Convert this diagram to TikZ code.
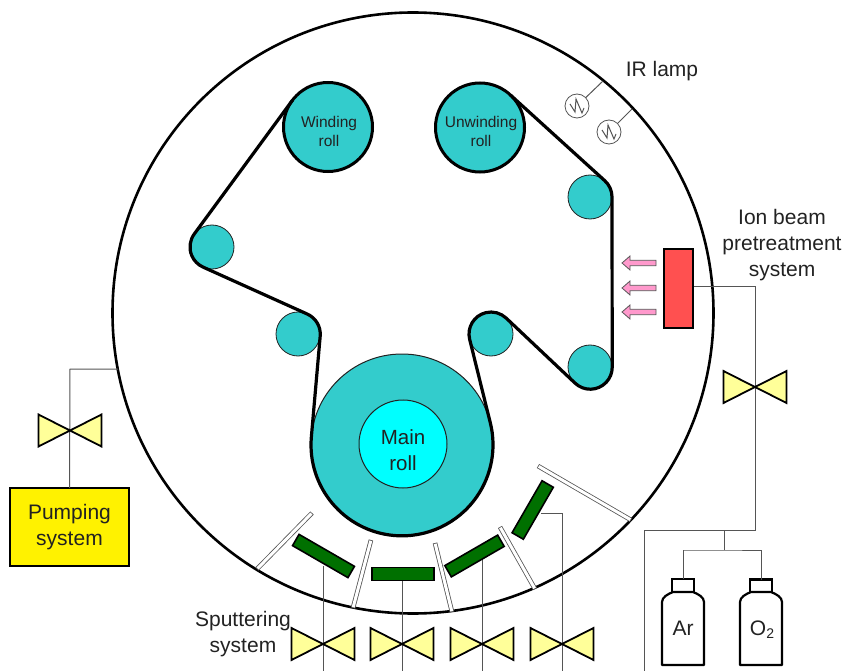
\documentclass[tikz,border=0pt]{standalone}
\usepackage{fontspec}
\setmainfont{Liberation Sans}
\definecolor{teal1}{HTML}{33CCCC}
\definecolor{cyan1}{HTML}{00FFFF}
\definecolor{red1}{HTML}{FF5050}
\definecolor{green1}{HTML}{007000}
\definecolor{valvey}{HTML}{FFFF99}
\definecolor{pink1}{HTML}{FF99CC}
\definecolor{ink}{HTML}{222222}
\definecolor{pipec}{HTML}{555555}
\tikzset{
  every node/.style={outer sep=0pt,inner sep=0pt,text=ink},
  roll/.style={circle,draw=black,fill=teal1,line width=3pt,minimum size=89pt},
  roller/.style={circle,draw=ink,fill=teal1,line width=0.8pt,minimum size=44pt},
  web/.style={draw=black,line width=3.2pt,line join=round},
  pipe/.style={draw=pipec,line width=1pt},
  target/.style={draw=black,fill=green1,line width=1.6pt,minimum height=13pt},
  shieldo/.style={draw=pipec,line width=4.6pt},
  shieldi/.style={draw=white,line width=3pt,shorten >=0.8pt,shorten <=0.8pt},
  bottlebody/.style={draw=black,fill=white,line width=2.2pt,line join=round},
  bottlecap/.style={rectangle,draw=black,fill=white,line width=2.2pt,minimum width=22pt,minimum height=13pt},
  lamp/.style={circle,draw=pipec,fill=white,line width=0.8pt,minimum size=24pt},
  lbl/.style={font=\fontsize{21}{26}\selectfont,align=center},
  rolllbl/.style={font=\fontsize{15.5}{19}\selectfont,align=center},
  valvepic/.pic={\draw[draw=black,fill=valvey,line width=1.8pt,line join=miter] (-31.5,-16)--(31.5,16)--(31.5,-16)--(-31.5,16)--cycle;},
  pinkarrow/.pic={\draw[draw=pipec,fill=pink1,line width=0.8pt,line join=miter] (-17,0)--(-9,-7)--(-9,-2.7)--(17,-2.7)--(17,2.7)--(-9,2.7)--(-9,7)--cycle;},
  filament/.pic={\draw[draw=pipec,line width=1pt,line join=miter] (-7,2)--(-2,-6)--(-1,7)--(5,-7)--(7,-2);}
}
\begin{document}
\begin{tikzpicture}[x=1pt,y=1pt,yscale=-1]
\useasboundingbox (0,0) rectangle (844,671);
% chamber
\node[circle,draw=black,line width=2.6pt,minimum size=601pt] (chamber) at (413,313) {};
% rolls
\node[roll] (wind) at (328,127) {};
\node[roll] (unw) at (480,127.5) {};
\node[rolllbl] (windt) at (329,131) {Winding\\roll};
\node[rolllbl] (unwt) at (481,131) {Unwinding\\roll};
\node[roller] (r1) at (212,247) {};
\node[roller] (r2) at (590,197) {};
\node[roller] (r3) at (590,367) {};
\node[roller] (r4) at (491,334) {};
\node[roller] (r5) at (298,334) {};
\node[circle,draw=ink,fill=teal1,line width=1pt,minimum size=182pt] (main) at (402,445) {};
\node[circle,draw=ink,fill=cyan1,line width=1pt,minimum size=88pt] (hub) at (403,444) {};
\node[lbl,font=\fontsize{20.5}{26}\selectfont] (maint) at (403,450) {Main\\roll};
% web
\draw[web] (wind.143) -- (r1.143) arc(217:114.2:22) -- (r5.65.8) arc(-65.8:4.9:22)
  -- (main.175.1) arc(184.9:-13.9:91) -- (r4.-166.1) arc(166.1:313.8:22)
  -- (r3.-133.8) arc(133.8:0:22) -- (r2.0) arc(0:-47.8:22) -- (unw.47.8);
% lamps
\coordinate (s1) at (603,81);
\coordinate (s2) at (632,109);
\node[lamp] (lamp1) at (577,106) {};
\node[lamp] (lamp2) at (609,132) {};
\draw[pipe] (lamp1) -- (s1);
\draw[pipe] (lamp2) -- (s2);
\pic at (577,106) {filament};
\pic at (609,132) {filament};
\node[lbl] (irt) at (662,71) {IR lamp};
% ion beam
\coordinate (ionout) at (693,287);
\coordinate (ionelbow) at (755,287);
\coordinate (split) at (755,530);
\coordinate (tee) at (724,530);
\coordinate (feedend) at (644,671);
\coordinate (feedelbow) at (644,530);
\coordinate (tee2) at (724,550);
\coordinate (arel) at (683,550);
\coordinate (oel) at (761,550);
\draw[pipe] (ionout) -- (ionelbow) -- (split) -- (feedelbow) -- (feedend);
\draw[pipe] (tee) -- (tee2);
\node[rectangle,draw=black,fill=red1,line width=2pt,minimum width=29pt,minimum height=79pt] (ion) at (678.5,288.5) {};
\pic at (639,263) {pinkarrow};
\pic at (639,288) {pinkarrow};
\pic at (639,312) {pinkarrow};
\node[lbl] (iont) at (782,245) {Ion beam\\pretreatment\\system};
\pic at (755,387) {valvepic};
% bottles
\draw[pipe] (arel) -- (tee2) -- (oel);
\node[bottlecap] (arcap) at (683,585.5) {};
\node[bottlecap] (ocap) at (761,586) {};
\draw[pipe] (arel) -- (arcap.north);
\draw[pipe] (oel) -- (ocap.north);
\draw[bottlebody] (662,665)--(662,602) .. controls (662,597) and (668,594) .. (673,592)--(693,592) .. controls (698,594) and (704,597) .. (704,602)--(704,665)--cycle;
\draw[bottlebody] (740,665)--(740,602) .. controls (740,597) and (746,594) .. (751,592)--(771,592) .. controls (776,594) and (782,597) .. (782,602)--(782,665)--cycle;
\node[lbl] (art) at (683,628) {Ar};
\node[lbl] (o2t) at (762,630) {O\raisebox{-0.3ex}{\fontsize{14}{14}\selectfont 2}};
% pumping
\coordinate (pumpin) at (118,369);
\coordinate (pumpel) at (70,369);
\node[rectangle,draw=black,fill=yellow,line width=2.4pt,minimum width=119pt,minimum height=78pt,lbl] (pump) at (69.5,527) {\rule{0pt}{3pt}Pumping\\system};
\draw[pipe] (pump.north) -- (pumpel) -- (pumpin);
\pic at (70,430.5) {valvepic};
% shields
\coordinate (a1) at (257,569); \coordinate (b1) at (312,513);
\coordinate (a2) at (353,608); \coordinate (b2) at (371,540);
\coordinate (a3) at (452,612); \coordinate (b3) at (435,543);
\coordinate (a4) at (535,589); \coordinate (b4) at (500,527);
\coordinate (a5) at (631,520); \coordinate (b5) at (538,466);
\foreach \i in {1,...,5} {
  \draw[shieldo] (a\i)--(b\i);
  \draw[shieldi] (a\i)--(b\i);
}
% sputter pipes
\coordinate (e1) at (323,671); \coordinate (e2) at (402,671); \coordinate (e3) at (482,671); \coordinate (e4) at (562,671);
\coordinate (t1) at (323,566); \coordinate (t2) at (402,574); \coordinate (t3) at (482,556);
\coordinate (t4) at (541,513); \coordinate (t4el) at (562,513);
\draw[pipe] (t1)--(e1);
\draw[pipe] (t2)--(e2);
\draw[pipe] (t3)--(e3);
\draw[pipe] (t4)--(t4el)--(e4);
\node[target,rotate=-30,minimum width=64pt] (tg1) at (323.5,556) {};
\node[target,minimum width=62pt] (tg2) at (403,574) {};
\node[target,rotate=30,minimum width=61pt] (tg3) at (474.5,556) {};
\node[target,rotate=60,minimum width=60pt] (tg4) at (532.7,510) {};
\pic at (323,644) {valvepic};
\pic at (402,644) {valvepic};
\pic at (482,644) {valvepic};
\pic at (562,644) {valvepic};
\node[lbl] (sput) at (243,634) {Sputtering\\system};
\end{tikzpicture}
\end{document}
